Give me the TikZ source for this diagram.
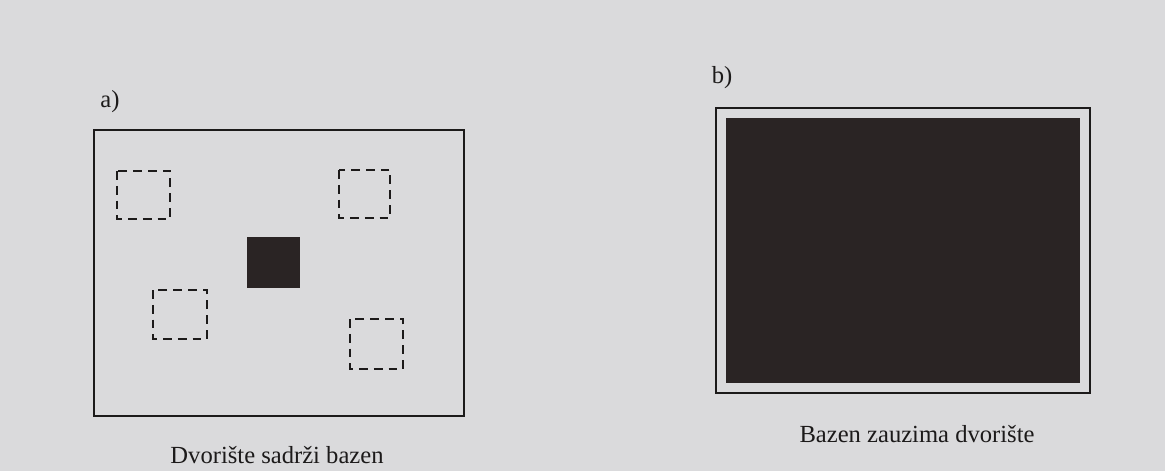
\documentclass[tikz,border=0pt]{standalone}
\usepackage{fontspec}
\setmainfont{Liberation Serif}
\usetikzlibrary{positioning}
\definecolor{paper}{RGB}{218,218,220}
\definecolor{ink}{RGB}{28,26,26}
\definecolor{water}{RGB}{42,36,36}
\tikzset{%
    yard/.style={draw=ink, line width=1.4pt},
    thinyard/.style={draw=ink, line width=1pt},
    spot/.style={draw=ink, line width=1.2pt, dash pattern=on 5pt off 3.4pt},
    pool/.style={fill=water},
    caption/.style={font=\fontsize{14}{16}\selectfont, text=ink, inner sep=0pt, anchor=base},
}
\begin{document}
\begin{tikzpicture}[x=0.02cm,y=-0.02cm]
\fill [paper] (0,0) rectangle (1165,471);
\useasboundingbox (0,0) rectangle (1165,471);
\draw [yard] (94,130) rectangle (464,416);
\draw [spot] (117,171) rectangle (170,219);
\draw [spot] (339,170) rectangle (390,218);
\draw [spot] (153,290) rectangle (207,339);
\draw [spot] (350,319) rectangle (403,369);
\fill [pool] (247,237) rectangle (300,288);
\node (la) [caption] at (110,107) {a)};
\node (ca) [caption] at (277,463) {Dvorište sadrži bazen};
\draw [thinyard] (716,108) rectangle (1090,393);
\fill [pool] (726,118) rectangle (1080,383);
\node (lb) [caption] at (722,83) {b)};
\node (cb) [caption] at (917,442) {Bazen zauzima dvorište};
\end{tikzpicture}
\end{document}
